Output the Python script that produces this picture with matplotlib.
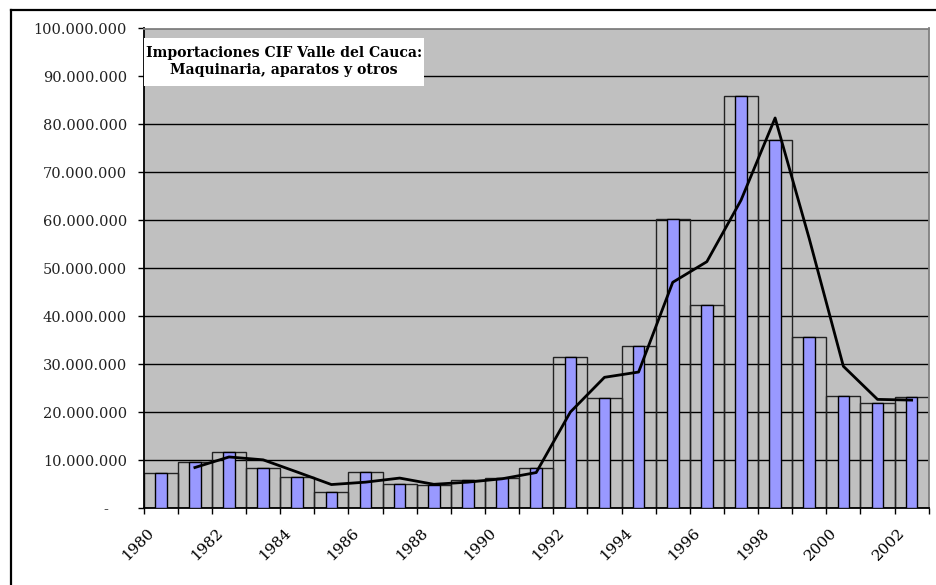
import numpy as np
import matplotlib
matplotlib.use("Agg")
import matplotlib.pyplot as plt
from matplotlib.ticker import FuncFormatter, MultipleLocator
from matplotlib.patches import Rectangle
from matplotlib.lines import Line2D

years = list(range(1980, 2003))
imports = [7.35, 9.7, 11.65, 8.5, 6.6, 3.3, 7.6, 5.0, 4.95, 5.9, 6.4, 8.5,
           31.6, 23.0, 33.75, 60.4, 42.4, 86.0, 76.7, 35.7, 23.5, 21.9, 23.25]
# 2-period moving average line (starts at 1981)
moving_avg = [np.nan, 8.5, 10.7, 10.1, 7.55, 4.95, 5.45, 6.3, 5.0, 5.45, 6.15, 7.45,
              20.05, 27.3, 28.4, 47.1, 51.4, 64.2, 81.35, 56.2, 29.6, 22.7, 22.55]
title_lines = ["Importaciones CIF Valle del Cauca:", "Maquinaria, aparatos y otros"]

imports = np.array(imports) * 1e6
moving_avg = np.array(moving_avg) * 1e6
x = np.arange(len(years))

W, H = 936, 585
fig = plt.figure(figsize=(W / 100, H / 100), dpi=100)
fig.patch.set_facecolor("white")
ax = fig.add_axes([143.7 / W, 1 - 508.3 / H, (928.7 - 143.7) / W, (508.3 - 28.5) / H])
ax.set_facecolor("#c0c0c0")

# wide outlined bars (transparent) and narrow purple bars
ax.bar(x, imports, width=1.0, facecolor="none", edgecolor="#222222", linewidth=1.0, zorder=2)
ax.bar(x, imports, width=0.34, facecolor="#9999ff", edgecolor="black", linewidth=1.0, zorder=3)
ax.plot(x, moving_avg, color="black", linewidth=2.0, zorder=4)

ax.set_xlim(-0.5, len(years) - 0.5)
ax.set_ylim(0, 100e6)
ax.yaxis.set_major_locator(MultipleLocator(10e6))
ax.yaxis.set_major_formatter(FuncFormatter(
    lambda v, p: "-    " if v == 0 else f"{int(round(v)):,}".replace(",", ".")))
ax.grid(axis="y", color="black", linewidth=1.0, zorder=1)
ax.set_axisbelow(True)

# year labels sit a little left of the category centre, like Excel's rotated labels
ax.set_xticks(x[::2] - 0.25)
ax.set_xticklabels([str(y) for y in years[::2]], rotation=45, ha="right", va="center",
                   rotation_mode="anchor", fontfamily="DejaVu Serif", fontsize=11)
ax.set_xticks(np.arange(-0.5, len(years)), minor=True)
ax.tick_params(axis="x", which="major", length=0, pad=16)
ax.tick_params(axis="x", which="minor", length=4, width=1.0, direction="out", color="black")
ax.tick_params(axis="y", length=4, width=1.0, direction="out", pad=8, labelsize=10.5)
for lab in ax.get_yticklabels():
    lab.set_fontfamily("DejaVu Serif")
    lab.set_color("#222222")

for side in ["left", "bottom"]:
    ax.spines[side].set_color("black")
    ax.spines[side].set_linewidth(1.3)
for side in ["top", "right"]:
    ax.spines[side].set_color("#808080")
    ax.spines[side].set_linewidth(1.3)

# title box
fig.patches.append(Rectangle((143.7 / W, 1 - 85.7 / H), 280 / W, 48 / H,
                             transform=fig.transFigure, facecolor="white",
                             edgecolor="none", zorder=5))
fig.text(283.7 / W, 1 - 61.5 / H, "\n".join(title_lines), ha="center", va="center",
         fontsize=10.1, fontweight="bold", family="DejaVu Serif", linespacing=1.3, zorder=6)

# outer chart frame (top and left visible)
fig.add_artist(Line2D([10.7 / W, 1.0], [1 - 10 / H, 1 - 10 / H], transform=fig.transFigure,
                      color="black", linewidth=1.6))
fig.add_artist(Line2D([10.7 / W, 10.7 / W], [1 - 10 / H, 0.0], transform=fig.transFigure,
                      color="black", linewidth=1.6))

fig.savefig("out.png", dpi=100)
